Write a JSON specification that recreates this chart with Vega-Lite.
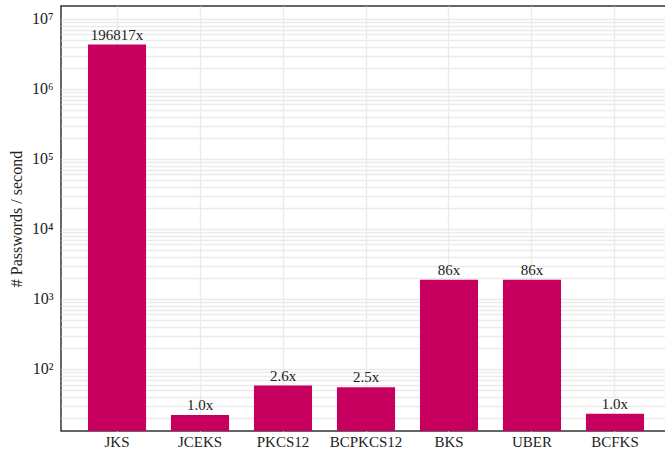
{
  "$schema": "https://vega.github.io/schema/vega-lite/v6.json",
  "width": 610,
  "height": 425,
  "autosize": "none",
  "padding": {"left": 61, "top": 6, "right": 0, "bottom": 22},
  "background": "white",
  "config": {
    "font": "Liberation Serif",
    "view": {"stroke": "#333333", "strokeWidth": 1.5},
    "axis": {
      "gridColor": "#ebebeb",
      "gridWidth": 1.4,
      "domain": false,
      "ticks": false,
      "labelColor": "#222222",
      "titleColor": "#222222",
      "labelFont": "Liberation Serif",
      "titleFont": "Liberation Serif",
      "titleFontWeight": "normal"
    }
  },
  "data": {
    "values": [
      {"store": "JKS", "rate": 4300000, "label": "196817x"},
      {"store": "JCEKS", "rate": 22, "label": "1.0x"},
      {"store": "PKCS12", "rate": 58, "label": "2.6x"},
      {"store": "BCPKCS12", "rate": 55, "label": "2.5x"},
      {"store": "BKS", "rate": 1880, "label": "86x"},
      {"store": "UBER", "rate": 1880, "label": "86x"},
      {"store": "BCFKS", "rate": 23, "label": "1.0x"}
    ]
  },
  "encoding": {
    "x": {
      "field": "store",
      "type": "nominal",
      "sort": null,
      "scale": {"paddingInner": 0.3, "paddingOuter": 0.325},
      "axis": {"title": null, "labelAngle": 0, "labelFontSize": 15, "labelPadding": 3, "grid": true}
    },
    "y": {
      "field": "rate",
      "type": "quantitative",
      "scale": {"type": "log", "domain": [13, 15300000], "nice": false},
      "axis": {
        "title": "# Passwords / second",
        "titleFontSize": 16,
        "titlePadding": 7,
        "labelFontSize": 16,
        "labelPadding": 8,
        "values": [20, 30, 40, 50, 60, 70, 80, 90, 100, 200, 300, 400, 500, 600, 700, 800, 900, 1000, 2000, 3000, 4000, 5000, 6000, 7000, 8000, 9000, 10000, 20000, 30000, 40000, 50000, 60000, 70000, 80000, 90000, 100000, 200000, 300000, 400000, 500000, 600000, 700000, 800000, 900000, 1000000, 2000000, 3000000, 4000000, 5000000, 6000000, 7000000, 8000000, 9000000, 10000000],
        "labelExpr": "datum.value == 100 ? '10²' : datum.value == 1000 ? '10³' : datum.value == 10000 ? '10⁴' : datum.value == 100000 ? '10⁵' : datum.value == 1000000 ? '10⁶' : datum.value == 10000000 ? '10⁷' : ''"
      }
    }
  },
  "layer": [
    {
      "mark": {"type": "bar", "color": "#c7005f"},
      "encoding": {"y2": {"datum": 13}}
    },
    {
      "mark": {"type": "text", "baseline": "bottom", "dy": -2, "fontSize": 15, "color": "#222222"},
      "encoding": {"text": {"field": "label"}}
    }
  ]
}
